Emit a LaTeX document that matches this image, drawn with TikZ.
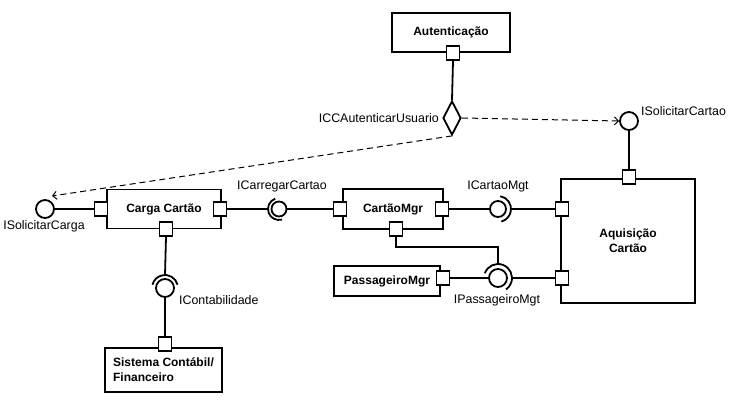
\documentclass[tikz,border=0pt]{standalone}
\usepackage{fontspec}
\setmainfont{Liberation Sans}
\usetikzlibrary{shapes.geometric,arrows.meta,calc}
\begin{document}
\begin{tikzpicture}[x=1pt,y=1pt,
  comp/.style={draw, line width=1.8pt, fill=white, inner sep=0pt, font=\fontsize{12}{15}\selectfont\bfseries, align=center},
  port/.style={draw, line width=1.8pt, fill=white, minimum width=13pt, minimum height=14pt, inner sep=0pt},
  ball/.style={circle, draw, line width=1.8pt, fill=white, inner sep=0pt, minimum size=#1},
  ball/.default=16pt,
  lbl/.style={font=\fontsize{12.4}{14}\selectfont, inner sep=1pt},
  wire/.style={line width=1.8pt},
  dep/.style={line width=1pt, dash pattern=on 6pt off 4pt, -{Straight Barb[length=4pt,width=8pt]}},
]
\path[use as bounding box, fill=white] (0,0) rectangle (730,401);

% Autenticacao
\node[comp, minimum width=118pt, minimum height=39pt] (auth) at (451,368.5) {Autenticação};
\node[port] (authp) at (453,348) {};
\node[draw, diamond, line width=1.8pt, minimum width=18pt, minimum height=34pt, inner sep=0pt, fill=white] (dia) at (452,283) {};
\draw[wire] (authp.south) -- (dia.north);
\node[lbl, anchor=east] (ldia) at (440,283) {ICCAutenticarUsuario};

% Aquisicao Cartao
\node[ball=18pt] (isc) at (629,280) {};
\node[lbl, anchor=west] (lisc) at (640,290) {ISolicitarCartao};
\node[comp, minimum width=134pt, minimum height=124pt] (aq) at (628,160) {Aquisição\\Cartão};
\node[port] (aqt) at (629,224) {};
\node[port] (aq1) at (562,192) {};
\node[port] (aq2) at (562,123) {};
\draw[wire] (isc.south) -- (aqt.north);
\draw[dep] (dia.east) -- (isc.west);

% Carga Cartao
\node[ball=18pt] (iscg) at (45,192) {};
\node[lbl] (liscg) at (44,175) {ISolicitarCarga};
\node[comp, minimum width=114pt, minimum height=39pt] (cg) at (164,192) {Carga Cartão};
\node[port] (cgl) at (101,192) {};
\node[port] (cgr) at (220,192) {};
\node[port] (cgb) at (166,172) {};
\draw[wire] (iscg.east) -- (cgl.west);
\draw[dep] (dia.south) -- ([yshift=6pt]iscg.north east);

% ICarregarCartao
\node[ball=15pt] (icc) at (279,192) {};
\coordinate (iccs) at ($(icc.center)+(-11pt,0)$);
\draw[wire] (cgr.east) -- (iccs);
\draw[wire] ([shift={(110:11pt)}]icc.center) arc[start angle=110,end angle=285,radius=11pt];
\node[lbl] (licc) at (282,215) {ICarregarCartao};

% CartaoMgr
\node[comp, minimum width=100pt, minimum height=40pt] (cmg) at (393,192) {CartãoMgr};
\node[port] (cmgl) at (340,192) {};
\node[port] (cmgr) at (442,192) {};
\node[port] (cmgb) at (396,172) {};
\draw[wire] (icc.east) -- (cmgl.west);

% ICartaoMgt
\node[ball=16pt] (icm) at (498,192) {};
\draw[wire] (cmgr.east) -- (icm.west);
\coordinate (icms) at ($(icm.center)+(13pt,0)$);
\draw[wire] ([shift={(80:13pt)}]icm.center) arc[start angle=80,end angle=-75,radius=13pt];
\draw[wire] (icms) -- (aq1.west);
\node[lbl] (licm) at (498,215) {ICartaoMgt};

% PassageiroMgr
\node[comp, minimum width=106pt, minimum height=30pt] (pm) at (387,120) {PassageiroMgr};
\node[port] (pmp) at (443,123) {};
\node[ball=18pt] (ipm) at (498,123) {};
\draw[wire] (pmp.east) -- (ipm.west);
\draw[wire] ([shift={(160:14pt)}]ipm.center) arc[start angle=160,end angle=-55,radius=14pt];
\coordinate (ipms) at ($(ipm.center)+(14pt,0)$);
\coordinate (ipmt) at ($(ipm.center)+(0,14pt)$);
\coordinate (bend) at (396,154);
\draw[wire] (ipms) -- (aq2.west);
\draw[wire] (cmgb.south) -- (bend) -| (ipmt);
\node[lbl] (lipm) at (497,101) {IPassageiroMgt};

% IContabilidade / Sistema
\node[ball=18pt] (ict) at (165,113) {};
\coordinate (icts) at ($(ict.center)+(0,13pt)$);
\draw[wire] (cgb.south) -- (icts);
\draw[wire] ([shift={(15:13pt)}]ict.center) arc[start angle=15,end angle=165,radius=13pt];
\node[lbl, anchor=west] (lict) at (178,101) {IContabilidade};
\node[comp, minimum width=117pt, minimum height=44pt, align=left] (sf) at (163.5,31) {Sistema Contábil/\\Financeiro};
\node[port] (sfp) at (165,57) {};
\draw[wire] (ict.south) -- (sfp.north);
\end{tikzpicture}
\end{document}
